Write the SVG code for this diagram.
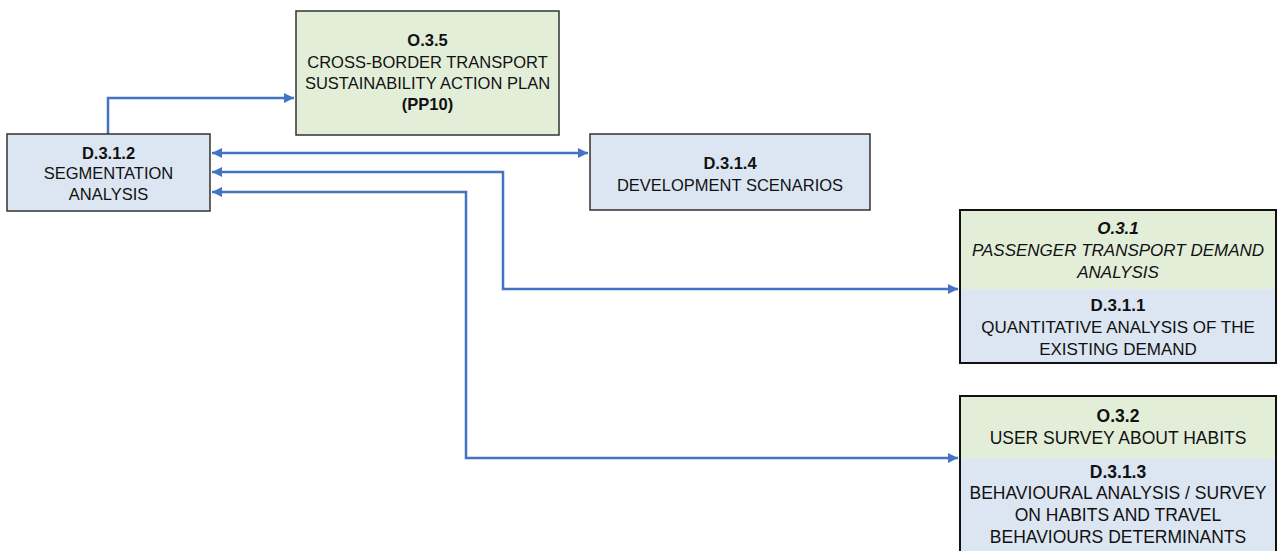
<svg xmlns="http://www.w3.org/2000/svg" width="1278" height="551" viewBox="0 0 1278 551">
<style>
text{font-family:"Liberation Sans",Arial,sans-serif;fill:#111;text-anchor:middle}
.b{font-weight:bold}
.i{font-style:italic}
.blue{fill:#dce6f2}
.green{fill:#e3eed9}
.box{fill:none;stroke:#333;stroke-width:1.5}
.boxk{fill:none;stroke:#111;stroke-width:2}
.c{fill:none;stroke:#4472c4;stroke-width:2.5}
.s1{font-size:16.5px}
.s2{font-size:17px}
.s3{font-size:17.5px}
</style>
<defs>
<marker id="ah" viewBox="0 0 10 10" refX="10" refY="5" markerWidth="4" markerHeight="4" orient="auto-start-reverse" markerUnits="strokeWidth">
<path d="M0,0 L10,5 L0,10 z" fill="#4472c4"/>
</marker>
</defs>
<g id="connectors">
<path class="c" d="M108,134 V98 H294" marker-end="url(#ah)"/>
<path class="c" d="M212,153 H588" marker-start="url(#ah)" marker-end="url(#ah)"/>
<path class="c" d="M958,289 H503 V172 H212" marker-start="url(#ah)" marker-end="url(#ah)"/>
<path class="c" d="M958,458 H466 V192 H212" marker-start="url(#ah)" marker-end="url(#ah)"/>
</g>
<g id="n_d312">
<rect class="blue" x="7" y="134" width="203" height="77"/>
<rect class="box" x="7" y="134" width="203" height="77"/>
<text class="s1 b" x="108.5" y="159">D.3.1.2</text>
<text class="s1" x="108.5" y="179">SEGMENTATION</text>
<text class="s1" x="108.5" y="200">ANALYSIS</text>
</g>
<g id="n_o35">
<rect class="green" x="296" y="11" width="263" height="124"/>
<rect class="box" x="296" y="11" width="263" height="124"/>
<text class="s1 b" x="427.5" y="46">O.3.5</text>
<text class="s1" x="427.5" y="68">CROSS-BORDER TRANSPORT</text>
<text class="s1" x="427.5" y="89">SUSTAINABILITY ACTION PLAN</text>
<text class="s1 b" x="427.5" y="110">(PP10)</text>
</g>
<g id="n_d314">
<rect class="blue" x="590" y="134" width="280" height="76"/>
<rect class="box" x="590" y="134" width="280" height="76"/>
<text class="s1 b" x="730" y="169">D.3.1.4</text>
<text class="s1" x="730" y="191">DEVELOPMENT SCENARIOS</text>
</g>
<g id="n_o31">
<rect class="green" x="960" y="210" width="316" height="79"/>
<rect class="blue" x="960" y="289" width="316" height="74"/>
<rect class="boxk" x="960" y="210" width="316" height="153"/>
<text class="s2 b i" x="1118" y="234">O.3.1</text>
<text class="s2 i" x="1118" y="256">PASSENGER TRANSPORT DEMAND</text>
<text class="s2 i" x="1118" y="278">ANALYSIS</text>
<text class="s2 b" x="1118" y="311">D.3.1.1</text>
<text class="s2" x="1118" y="333">QUANTITATIVE ANALYSIS OF THE</text>
<text class="s2" x="1118" y="355">EXISTING DEMAND</text>
</g>
<g id="n_o32">
<rect class="green" x="960" y="396" width="316" height="63"/>
<rect class="blue" x="960" y="459" width="316" height="95"/>
<rect class="boxk" x="960" y="396" width="316" height="158"/>
<text class="s3 b" x="1118" y="422">O.3.2</text>
<text class="s3" x="1118" y="444">USER SURVEY ABOUT HABITS</text>
<text class="s3 b" x="1118" y="478">D.3.1.3</text>
<text class="s3" x="1118" y="499">BEHAVIOURAL ANALYSIS / SURVEY</text>
<text class="s3" x="1118" y="521">ON HABITS AND TRAVEL</text>
<text class="s3" x="1118" y="543">BEHAVIOURS DETERMINANTS</text>
</g>
</svg>
